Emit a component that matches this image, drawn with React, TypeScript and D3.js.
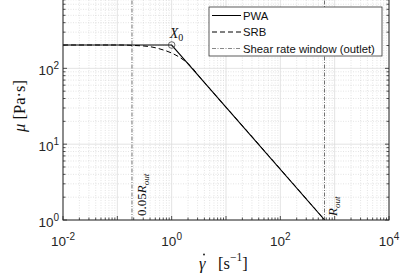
import React from 'react';
import * as d3 from 'd3';

// PWA (piecewise approximation) and SRB curves
const pwaRate = [0.01, 1, 655];
const pwaMu = [203, 203, 1];
const srbRate = [0.01, 0.11, 0.21, 0.4, 0.61, 1.0, 1.42, 2.18, 3.33, 30, 655];
const srbMu = [203, 203, 200, 193, 180, 159, 139, 109, 76, 12.6, 1];

// shear rate window (outlet)
const windowRates = [0.186, 650];
const windowLabels = [
  { main: '0.05', sym: 'R', sub: 'out' },
  { main: '', sym: 'R', sub: 'out' },
];

const xTickExps = [-2, 0, 2, 4];
const yTickExps = [0, 1, 2];
const legendItems = ['PWA', 'SRB', 'Shear rate window (outlet)'];

const W = 403;
const H = 279;
const plot = { left: 63, right: 389, top: -7.5, bottom: 220 };

const sans = '"Liberation Sans", Arial, Helvetica, sans-serif';
const serif = '"Liberation Serif", "DejaVu Serif", serif';
const axisColor = '#262626';

export default function App() {
  const xScale = d3.scaleLog().domain([1e-2, 1e4]).range([plot.left, plot.right]);
  const yScale = d3.scaleLog().domain([1, 1e3]).range([plot.bottom, plot.top]);

  const line = d3
    .line<[number, number]>()
    .x((d) => xScale(d[0]))
    .y((d) => yScale(d[1]));
  const smooth = d3
    .line<[number, number]>()
    .x((d) => xScale(d[0]))
    .y((d) => yScale(d[1]))
    .curve(d3.curveMonotoneX);

  const pwaPts = pwaRate.map((r, i) => [r, pwaMu[i]] as [number, number]);
  const srbPts = srbRate.map((r, i) => [r, srbMu[i]] as [number, number]);

  // grid values
  const xMinor: number[] = [];
  for (let e = -2; e < 4; e++) for (let k = 2; k <= 9; k++) xMinor.push(k * 10 ** e);
  const yMinor: number[] = [];
  for (let e = 0; e < 3; e++) for (let k = 2; k <= 9; k++) yMinor.push(k * 10 ** e);
  const xMajor = d3.range(-2, 5).map((e) => 10 ** e);
  const yMajor = d3.range(0, 4).map((e) => 10 ** e);

  const majorLen = 4;
  const minorLen = 2.5;

  return (
    <svg
      width={W}
      height={H}
      style={{ position: 'absolute', left: 0, top: 0, background: '#fff' }}
    >
      <defs>
        <clipPath id="plotClip">
          <rect
            x={plot.left}
            y={plot.top}
            width={plot.right - plot.left}
            height={plot.bottom - plot.top}
          />
        </clipPath>
      </defs>

      {/* minor grid */}
      <g stroke="#c8c8c8" strokeWidth={0.5} strokeDasharray="1,1.5">
        {xMinor.map((v) => (
          <line key={'xm' + v} x1={xScale(v)} x2={xScale(v)} y1={plot.top} y2={plot.bottom} />
        ))}
        {yMinor.map((v) => (
          <line key={'ym' + v} x1={plot.left} x2={plot.right} y1={yScale(v)} y2={yScale(v)} />
        ))}
      </g>
      {/* major grid */}
      <g stroke="#dcdcdc" strokeWidth={0.8}>
        {xMajor.map((v) => (
          <line key={'xg' + v} x1={xScale(v)} x2={xScale(v)} y1={plot.top} y2={plot.bottom} />
        ))}
        {yMajor.map((v) => (
          <line key={'yg' + v} x1={plot.left} x2={plot.right} y1={yScale(v)} y2={yScale(v)} />
        ))}
      </g>

      {/* shear rate window */}
      <g stroke="#333" strokeWidth={0.7} strokeDasharray="4,1.5,1,1.5">
        {windowRates.map((r) => (
          <line key={r} x1={xScale(r)} x2={xScale(r)} y1={plot.top} y2={plot.bottom} />
        ))}
      </g>
      {windowRates.map((r, i) => {
        const x = xScale(r) + (i === 0 ? 14 : 12);
        const y = plot.bottom - 4;
        const lab = windowLabels[i];
        return (
          <text
            key={'wl' + r}
            transform={`translate(${x},${y}) rotate(-90)`}
            fontFamily={serif}
            fontSize={13}
            fill="#111"
          >
            {lab.main}
            <tspan fontStyle="italic">{lab.sym}</tspan>
            <tspan fontStyle="italic" fontSize={9} dy={3}>
              {lab.sub}
            </tspan>
          </text>
        );
      })}

      {/* curves */}
      <g clipPath="url(#plotClip)" fill="none">
        <path d={smooth(srbPts) || ''} stroke="#000" strokeWidth={1} strokeDasharray="5,3" />
        <path d={line(pwaPts) || ''} stroke="#000" strokeWidth={1.1} />
      </g>

      {/* X0 marker */}
      <circle cx={xScale(1)} cy={yScale(203)} r={3.3} fill="none" stroke="#444" strokeWidth={0.8} />
      <text x={xScale(1) - 2} y={yScale(203) - 7} fontFamily={serif} fontSize={14} fill="#111">
        <tspan fontStyle="italic">X</tspan>
        <tspan fontSize={10} dy={3}>
          0
        </tspan>
      </text>

      {/* axes box */}
      <rect
        x={plot.left}
        y={plot.top}
        width={plot.right - plot.left}
        height={plot.bottom - plot.top}
        fill="none"
        stroke={axisColor}
        strokeWidth={1}
      />
      {/* ticks */}
      <g stroke={axisColor} strokeWidth={0.8}>
        {xMajor.map((v) => (
          <g key={'xt' + v}>
            <line x1={xScale(v)} x2={xScale(v)} y1={plot.bottom} y2={plot.bottom - majorLen} />
            <line x1={xScale(v)} x2={xScale(v)} y1={plot.top} y2={plot.top + majorLen} />
          </g>
        ))}
        {xMinor.map((v) => (
          <g key={'xmt' + v}>
            <line x1={xScale(v)} x2={xScale(v)} y1={plot.bottom} y2={plot.bottom - minorLen} />
            <line x1={xScale(v)} x2={xScale(v)} y1={plot.top} y2={plot.top + minorLen} />
          </g>
        ))}
        {yMajor.map((v) => (
          <g key={'yt' + v}>
            <line x1={plot.left} x2={plot.left + majorLen} y1={yScale(v)} y2={yScale(v)} />
            <line x1={plot.right} x2={plot.right - majorLen} y1={yScale(v)} y2={yScale(v)} />
          </g>
        ))}
        {yMinor.map((v) => (
          <g key={'ymt' + v}>
            <line x1={plot.left} x2={plot.left + minorLen} y1={yScale(v)} y2={yScale(v)} />
            <line x1={plot.right} x2={plot.right - minorLen} y1={yScale(v)} y2={yScale(v)} />
          </g>
        ))}
      </g>

      {/* tick labels */}
      {xTickExps.map((e) => (
        <text
          key={'xl' + e}
          x={xScale(10 ** e)}
          y={plot.bottom + 26}
          textAnchor="middle"
          fontFamily={sans}
          fontSize={13.5}
          fill={axisColor}
        >
          10
          <tspan fontSize={10} dy={-6}>
            {e < 0 ? '-' + Math.abs(e) : e}
          </tspan>
        </text>
      ))}
      {yTickExps.map((e) => (
        <text
          key={'yl' + e}
          x={plot.left - 4}
          y={yScale(10 ** e) + 7}
          textAnchor="end"
          fontFamily={sans}
          fontSize={13.5}
          fill={axisColor}
        >
          10
          <tspan fontSize={10} dy={-6}>
            {e}
          </tspan>
        </text>
      ))}

      {/* x axis label: gamma-dot [s^-1] */}
      <text x={199} y={269} fontFamily={serif} fontSize={16.5} fontStyle="italic" fill="#111">
        {'\u03B3'}
      </text>
      <circle cx={204} cy={254.5} r={0.9} fill="#111" />
      <text x={218} y={269} fontFamily={serif} fontSize={16.5} fill="#111">
        [s
        <tspan fontSize={11.5} dy={-8}>
          {'\u22121'}
        </tspan>
        <tspan dy={8}>]</tspan>
      </text>
      {/* y axis label */}
      <text
        transform={`translate(25,106) rotate(-90)`}
        textAnchor="middle"
        fontFamily={serif}
        fontSize={16.5}
        fill="#111"
      >
        <tspan fontStyle="italic">{'\u03BC'}</tspan>
        <tspan> [Pa{'\u00B7'}s]</tspan>
      </text>

      {/* legend */}
      <g>
        <rect x={209} y={7} width={173} height={49} fill="#fff" stroke="#333" strokeWidth={0.8} />
        {legendItems.map((name, i) => {
          const y = 15.5 + i * 16.5;
          const dash = i === 0 ? undefined : i === 1 ? '5,3' : '4,1.5,1,1.5';
          return (
            <g key={name}>
              <line
                x1={212}
                x2={241}
                y1={y}
                y2={y}
                stroke={i === 2 ? '#555' : '#000'}
                strokeWidth={i === 2 ? 0.7 : 1}
                strokeDasharray={dash}
              />
              <text x={243} y={y + 4} fontFamily={sans} fontSize={11.3} fill="#111">
                {name}
              </text>
            </g>
          );
        })}
      </g>
    </svg>
  );
}
